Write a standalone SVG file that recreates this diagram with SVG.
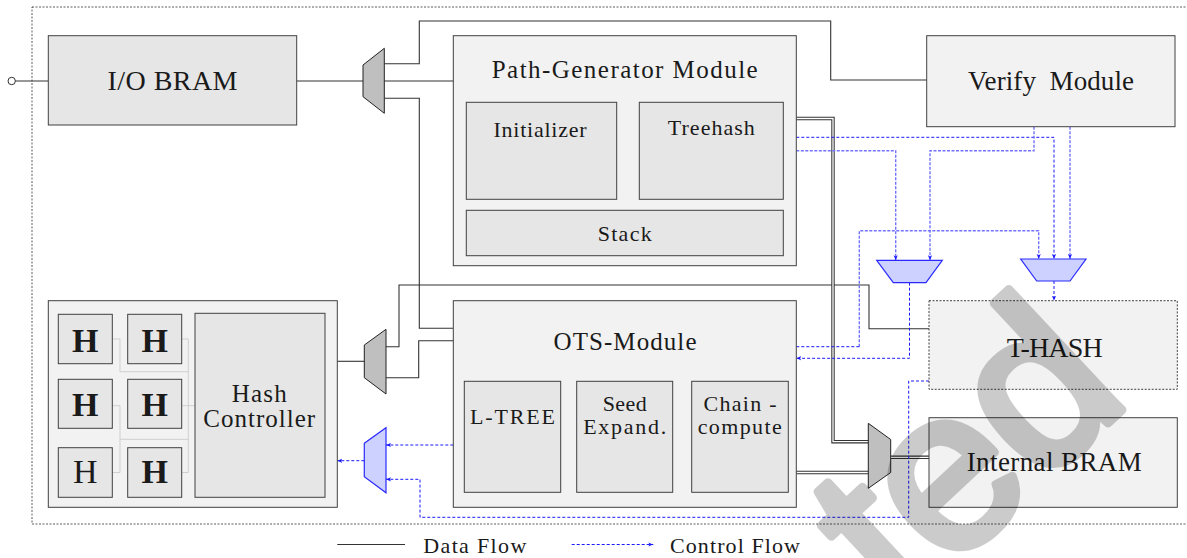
<svg xmlns="http://www.w3.org/2000/svg" width="1187" height="558" viewBox="0 0 1187 558">
<defs>
<style>
.box{stroke:#404040;stroke-width:1}
.lg{fill:#f2f2f2}
.dg{fill:#e6e6e6}
.t{font-family:'Liberation Serif','Tinos','Times New Roman','DejaVu Serif','Noto Serif',serif;fill:#1a1a1a;text-anchor:middle}
.ts{font-family:'Liberation Serif','Tinos','Times New Roman','DejaVu Serif','Noto Serif',serif;fill:#1a1a1a}
.w{fill:none;stroke:#333;stroke-width:1.1}
.dbo{fill:none;stroke:#333;stroke-width:3.4}
.dbi{fill:none;stroke:#fff;stroke-width:1.3}
.cd{fill:none;stroke:#1a1aff;stroke-width:1;stroke-dasharray:3,2}
.cl{fill:none;stroke:#7373ff;stroke-width:1.4;stroke-dasharray:3,1.5}
.mux{fill:#bfbfbf;stroke:#222;stroke-width:1}
.bmux{fill:#ccd1ff;stroke:#2a2aff;stroke-width:1.2}
.hl{fill:none;stroke:#cfcfcf;stroke-width:1}
</style>
<marker id="ar" viewBox="0 0 6 6" refX="6" refY="3" markerWidth="5" markerHeight="5" orient="auto" markerUnits="userSpaceOnUse">
<path d="M0,0.5 L6,3 L0,5.5 L1.5,3 Z" fill="#1a1aff"/>
</marker>
</defs>
<rect width="1187" height="558" fill="#fff"/>
<rect x="32" y="7" width="1160" height="517" fill="none" stroke="#333" stroke-width="0.8" stroke-dasharray="2,1.5"/>

<g id="connectors">
<circle cx="11.7" cy="81" r="3.7" fill="#fff" stroke="#333" stroke-width="1"/>
<path class="w" d="M15.4,81 H48.3"/>
<path class="w" d="M296.7,81 H363"/>
<path class="w" d="M384.3,81 H453.3"/>
<path class="w" d="M384.3,63.7 H419.3 V21 H830.7 V80 H926.7"/>
<path class="w" d="M384.3,98.3 H419.3 V328.3 H453.3"/>
<path class="w" d="M337.3,361.3 H364.3"/>
<path class="w" d="M386,346.7 H399 V285 H869 V328.7 H929"/>
<path class="w" d="M386,377.7 H418.7 V340.7 H453.3"/>
<path class="dbo" d="M796.3,118.5 H833 V441.7 H868.3"/>
<path class="dbi" d="M796.3,118.5 H833 V441.7 H868.3"/>
<path class="dbo" d="M796.3,472.5 H868.3"/>
<path class="dbi" d="M796.3,472.5 H868.3"/>
<path class="dbo" d="M890.7,457.3 H929"/>
<path class="dbi" d="M890.7,457.3 H929"/>
<path class="cd" d="M796.3,137.3 H1054 V259" marker-end="url(#ar)"/>
<path class="cl" d="M796.3,150.7 H895.7 V260.3" marker-end="url(#ar)"/>
<path class="cl" d="M1034,126.7 V150.7 H930 V260.3" marker-end="url(#ar)"/>
<path class="cl" d="M1070,126.7 V259" marker-end="url(#ar)"/>
<path class="cl" d="M859.3,346.7 V230.7 H1038.7 V259" marker-end="url(#ar)"/>
<path class="cd" d="M796.3,346.7 H859.3"/>
<path class="cd" d="M909.5,282.7 V358.3 H796.3" marker-end="url(#ar)"/>
<path class="cd" d="M1054,281 V300.7" marker-end="url(#ar)"/>
<path class="cd" d="M929,381 H908.7 V517.3 H420 V479.3 H386" marker-end="url(#ar)"/>
<path class="cd" d="M453.3,445 H386" marker-end="url(#ar)"/>
<path class="cd" d="M364.3,460.7 H337.3" marker-end="url(#ar)"/>
</g>

<g id="io-bram">
<rect class="box dg" x="48.3" y="35.7" width="248.4" height="89.3"/>
<text class="t" x="172.5" y="90" font-size="28" textLength="130">I/O BRAM</text>
</g>

<g id="path-generator">
<rect class="box lg" x="453.3" y="35.7" width="343" height="230"/>
<text class="t" x="624.7" y="78.3" font-size="25" textLength="266">Path-Generator Module</text>
<g id="initializer">
<rect class="box dg" x="466.3" y="102.3" width="150.4" height="97"/>
<text class="t" x="540" y="137.3" font-size="22" textLength="93">Initializer</text>
</g>
<g id="treehash">
<rect class="box dg" x="639.3" y="102.3" width="144" height="97"/>
<text class="t" x="711.3" y="135" font-size="22" textLength="87">Treehash</text>
</g>
<g id="stack">
<rect class="box dg" x="466.3" y="210.3" width="317" height="45.4"/>
<text class="t" x="624.7" y="240.7" font-size="22" textLength="54">Stack</text>
</g>
</g>

<g id="verify">
<rect class="box lg" x="926.7" y="35.7" width="248.3" height="91"/>
<text class="t" x="1051" y="90" font-size="27" textLength="166" xml:space="preserve">Verify  Module</text>
</g>

<g id="ots-module">
<rect class="box lg" x="453.3" y="300.7" width="343" height="206.6"/>
<text class="t" x="625" y="350" font-size="25" textLength="143">OTS-Module</text>
<g id="l-tree">
<rect class="box dg" x="464.3" y="381.3" width="96.4" height="111"/>
<text class="t" x="512.5" y="424" font-size="22" textLength="85">L-TREE</text>
</g>
<g id="seed-expand">
<rect class="box dg" x="576.7" y="381.3" width="96" height="111"/>
<text class="t" x="624.7" y="410.7" font-size="22" textLength="44">Seed</text>
<text class="t" x="624.7" y="434" font-size="22" textLength="83">Expand.</text>
</g>
<g id="chain-compute">
<rect class="box dg" x="691.7" y="381.3" width="96.6" height="111"/>
<text class="t" x="740" y="410.7" font-size="22" textLength="73">Chain -</text>
<text class="t" x="739.7" y="433.5" font-size="22" textLength="84">compute</text>
</g>
</g>

<g id="t-hash">
<rect class="box lg" x="929" y="300.7" width="248.3" height="88.6" stroke-dasharray="2,1.5"/>
<text class="t" x="1054.7" y="356.7" font-size="28" textLength="96">T-HASH</text>
</g>

<g id="internal-bram">
<rect class="box lg" x="929" y="417.7" width="248.3" height="89.6"/>
<text class="t" x="1054.2" y="470.7" font-size="27" textLength="175">Internal BRAM</text>
</g>

<g id="hash-unit">
<rect class="box lg" x="48.3" y="300.7" width="289" height="206.6"/>
<path class="hl" d="M112.3,339 H120 V371.7 H188.3"/>
<path class="hl" d="M181.7,339 H188.3 V472.5 H181.7"/>
<path class="hl" d="M181.7,405.7 H195"/>
<path class="hl" d="M112.3,405.7 H120 V472.5 H112.3"/>
<path class="hl" d="M120,439.3 H188.3"/>
<g id="h1"><rect class="box dg" x="58.3" y="314.3" width="54" height="49.4"/><text class="t" x="85.3" y="351.7" font-size="34" font-weight="bold">H</text></g>
<g id="h2"><rect class="box dg" x="127.7" y="314.3" width="54" height="49.4"/><text class="t" x="154.7" y="351.7" font-size="34" font-weight="bold">H</text></g>
<g id="h3"><rect class="box dg" x="58.3" y="379.3" width="54" height="49"/><text class="t" x="85.3" y="416" font-size="34" font-weight="bold">H</text></g>
<g id="h4"><rect class="box dg" x="127.7" y="379.3" width="54" height="49"/><text class="t" x="154.7" y="416" font-size="34" font-weight="bold">H</text></g>
<g id="h5"><rect class="box dg" x="58.3" y="447.7" width="54" height="49.6"/><text class="t" x="85.3" y="483.3" font-size="34">H</text></g>
<g id="h6"><rect class="box dg" x="127.7" y="447.7" width="54" height="49.6"/><text class="t" x="154.7" y="483.3" font-size="34" font-weight="bold">H</text></g>
<g id="hash-controller">
<rect class="box dg" x="195" y="313.3" width="130" height="184"/>
<text class="t" x="259.2" y="401.7" font-size="25" textLength="55">Hash</text>
<text class="t" x="259.2" y="426.7" font-size="25" textLength="111.7">Controller</text>
</g>
</g>

<g id="mux-io"><polygon class="mux" points="363,65 384.3,48.3 384.3,113.3 363,96.7"/></g>
<g id="mux-bram"><polygon class="mux" points="868.3,423.3 890.7,439.5 890.7,472.5 868.3,488.3"/></g>
<g id="mux-hash"><polygon class="mux" points="364.3,345 386,329.3 386,394 364.3,377.7"/></g>
<g id="mux-ctrl-a"><polygon class="bmux" points="876.7,260.3 942.3,260.3 926,282.7 893.3,282.7"/></g>
<g id="mux-ctrl-b"><polygon class="bmux" points="1020.7,259 1086,259 1070,281 1036.7,281"/></g>
<g id="mux-ctrl-c"><polygon class="bmux" points="364.3,443.3 386,427.7 386,492.7 364.3,476.7"/></g>

<g id="legend">
<path class="w" d="M337.3,544.5 H405"/>
<text class="ts" x="423.3" y="553" font-size="22" textLength="103">Data Flow</text>
<path class="cd" d="M571.7,544.5 H653.3" marker-end="url(#ar)"/>
<text class="ts" x="670" y="553" font-size="22" textLength="130">Control Flow</text>
</g>

<text transform="translate(901,616) rotate(-43)" font-family="Liberation Sans, Arial, sans-serif" font-size="228" fill="#000" stroke="#000" stroke-width="9" stroke-linejoin="round" opacity="0.2">ted</text>
</svg>
